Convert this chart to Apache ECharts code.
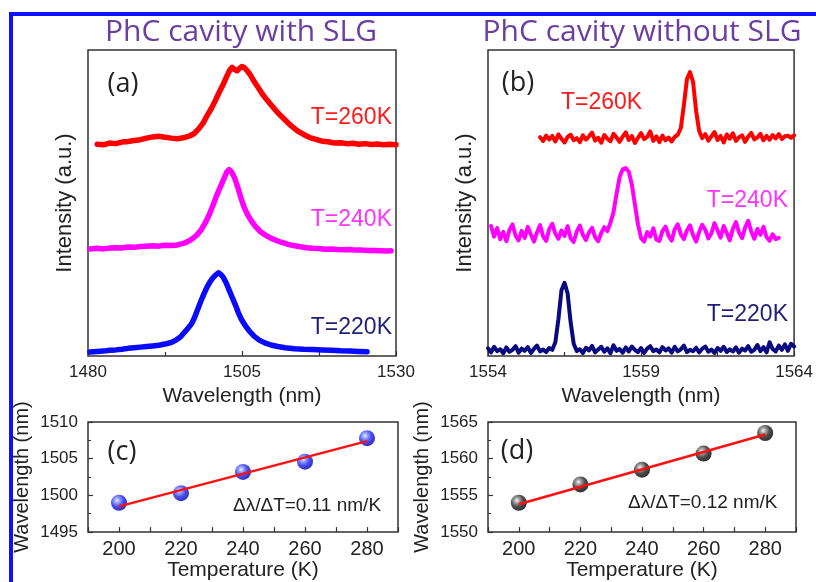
<!DOCTYPE html>
<html><head><meta charset="utf-8">
<script src="https://cdn.jsdelivr.net/npm/echarts@6/dist/echarts.min.js"></script>
<style>html,body{margin:0;padding:0;background:#fff}#c{width:816px;height:582px}</style>
</head><body><div id="c"></div>
<script>
// ---------- DATA ----------
// Panel (a): PhC cavity with SLG, [wavelength nm, intensity a.u.]
const specA260 = [[1481.5,69.2],[1482.5,69.0],[1483.5,69.6],[1484.5,69.4],[1485.5,69.9],[1486.5,70.1],[1487.5,70.4],[1488.5,70.7],[1489.5,71.2],[1490.5,71.6],[1491.5,71.8],[1492.5,71.5],[1493.5,71.2],[1494.5,71.0],[1495.5,71.3],[1496.5,71.9],[1497.3,72.8],[1498,74.3],[1498.7,76.2],[1499.4,78.8],[1500,80.8],[1500.7,83.6],[1501.3,86.2],[1502,89.0],[1502.5,91.3],[1503,93.4],[1503.4,94.3],[1503.8,93.6],[1504.2,93.2],[1504.6,94.0],[1505,94.6],[1505.4,94.2],[1505.9,93.1],[1506.4,91.7],[1507,89.6],[1507.6,87.8],[1508.3,85.6],[1509,83.8],[1509.7,82.1],[1510.5,80.2],[1511.3,78.5],[1512,77.1],[1513,75.2],[1514,73.6],[1515,72.4],[1516,71.4],[1517,70.8],[1518,70.2],[1519,70.0],[1520,69.6],[1521,69.7],[1522,69.4],[1523,69.5],[1524,69.2],[1525,69.4],[1526,69.1],[1527,69.3],[1528,69.0],[1529,69.2],[1530,69.0]];
const specA240 = [[1480.3,35.0],[1481.5,35.2],[1482.5,35.0],[1483.5,35.3],[1484.5,35.4],[1485.5,35.3],[1486.5,35.6],[1487.5,35.5],[1488.5,35.8],[1489.5,35.9],[1490.5,36.0],[1491.5,35.9],[1492.5,36.2],[1493.5,36.1],[1494.5,36.3],[1495.5,36.8],[1496.3,37.5],[1497,38.4],[1497.7,39.6],[1498.4,41.3],[1499,43.4],[1499.6,45.8],[1500.2,48.8],[1500.8,52.0],[1501.4,54.9],[1502,57.6],[1502.5,60.0],[1502.9,60.9],[1503.3,60.2],[1503.8,58.2],[1504.3,55.2],[1504.8,51.8],[1505.3,48.8],[1505.9,46.2],[1506.5,44.2],[1507.2,42.3],[1508,40.6],[1508.8,39.5],[1509.6,38.6],[1510.5,37.8],[1511.5,37.1],[1512.5,36.5],[1513.5,36.0],[1514.5,35.7],[1515.5,35.4],[1516.5,35.2],[1517.5,35.1],[1518.5,34.9],[1519.5,35.0],[1520.5,34.8],[1521.5,34.7],[1522.5,34.8],[1523.5,34.6],[1524.5,34.6],[1525.5,34.5],[1526.5,34.5],[1527.5,34.4],[1528.5,34.3],[1529.2,34.4]];
const specA220 = [[1480.3,1.3],[1481.5,1.5],[1482.5,1.6],[1483.5,1.9],[1484.5,2.0],[1485.5,2.2],[1486.5,2.5],[1487.5,2.7],[1488.5,2.9],[1489.5,3.1],[1490.5,3.3],[1491.5,3.5],[1492.5,3.9],[1493.5,4.4],[1494.3,5.2],[1495,6.2],[1495.6,7.6],[1496.2,9.0],[1496.8,10.5],[1497.3,12.6],[1497.8,15.2],[1498.3,17.8],[1498.8,20.2],[1499.3,22.4],[1499.8,24.2],[1500.3,25.6],[1500.8,26.6],[1501.2,27.2],[1501.6,26.6],[1502,25.6],[1502.4,24.0],[1502.9,21.6],[1503.4,19.2],[1503.9,16.8],[1504.4,14.2],[1504.9,12.0],[1505.5,10.0],[1506.2,8.1],[1507,6.4],[1507.8,5.2],[1508.7,4.3],[1509.7,3.6],[1510.8,3.1],[1512,2.7],[1513.5,2.4],[1515,2.2],[1516.5,2.1],[1518,2.0],[1519.5,1.9],[1521,1.7],[1522.5,1.6],[1524,1.5],[1525.3,1.4]];

// Panel (b): PhC cavity without SLG
const specB260 = [[1555.7,71.5],[1555.8,70.3],[1555.9,72.0],[1556.0,70.8],[1556.1,71.9],[1556.2,70.1],[1556.3,72.4],[1556.4,71.0],[1556.5,69.8],[1556.6,71.6],[1556.7,72.3],[1556.8,70.5],[1556.9,71.2],[1557.0,69.9],[1557.1,72.1],[1557.2,70.7],[1557.3,71.8],[1557.4,73.0],[1557.5,70.4],[1557.6,71.3],[1557.7,69.7],[1557.8,72.2],[1557.9,71.0],[1558.0,70.2],[1558.1,72.6],[1558.2,71.4],[1558.3,70.0],[1558.4,71.7],[1558.5,73.1],[1558.6,70.6],[1558.7,71.9],[1558.8,69.6],[1558.9,71.3],[1559.0,72.8],[1559.1,70.9],[1559.2,71.6],[1559.3,73.4],[1559.4,70.3],[1559.5,71.8],[1559.6,69.9],[1559.7,72.0],[1559.8,70.5],[1559.9,71.4],[1560.0,70.1],[1560.1,71.6],[1560.2,72.3],[1560.3,74.5],[1560.4,82.0],[1560.5,90.5],[1560.6,92.8],[1560.7,89.5],[1560.8,80.0],[1560.9,73.5],[1561.0,71.2],[1561.1,72.5],[1561.2,70.4],[1561.3,71.8],[1561.4,73.2],[1561.5,70.6],[1561.6,71.9],[1561.7,69.8],[1561.8,72.4],[1561.9,71.0],[1562.0,72.8],[1562.1,70.3],[1562.2,71.5],[1562.3,72.1],[1562.4,70.0],[1562.5,71.7],[1562.6,72.9],[1562.7,70.8],[1562.8,71.4],[1562.9,72.6],[1563.0,70.5],[1563.1,71.9],[1563.2,70.7],[1563.3,72.2],[1563.4,71.1],[1563.5,72.5],[1563.6,70.9],[1563.7,71.8],[1563.8,72.0],[1563.9,71.3],[1564.0,72.1]];
const specB240 = [[1554.1,42.5],[1554.2,39.0],[1554.3,41.8],[1554.4,38.2],[1554.5,40.6],[1554.6,37.5],[1554.7,41.2],[1554.8,43.0],[1554.9,39.4],[1555.0,37.8],[1555.1,40.9],[1555.2,38.6],[1555.3,42.2],[1555.4,39.7],[1555.5,37.4],[1555.6,40.3],[1555.7,42.8],[1555.8,39.1],[1555.9,37.6],[1556.0,41.5],[1556.1,43.2],[1556.2,40.0],[1556.3,38.3],[1556.4,41.0],[1556.5,39.2],[1556.6,42.4],[1556.7,38.5],[1556.8,37.3],[1556.9,40.7],[1557.0,42.6],[1557.1,39.6],[1557.2,37.9],[1557.3,40.4],[1557.4,41.9],[1557.5,38.8],[1557.6,37.5],[1557.7,40.2],[1557.8,42.1],[1557.9,40.8],[1558.0,43.6],[1558.1,47.0],[1558.2,53.0],[1558.3,58.5],[1558.4,61.0],[1558.5,61.4],[1558.6,60.2],[1558.7,56.0],[1558.8,49.5],[1558.9,43.0],[1559.0,38.6],[1559.1,37.4],[1559.2,40.5],[1559.3,39.0],[1559.4,41.7],[1559.5,38.1],[1559.6,37.6],[1559.7,40.9],[1559.8,42.3],[1559.9,39.3],[1560.0,37.7],[1560.1,41.4],[1560.2,43.0],[1560.3,39.8],[1560.4,38.2],[1560.5,41.1],[1560.6,42.7],[1560.7,39.5],[1560.8,37.4],[1560.9,40.6],[1561.0,42.9],[1561.1,41.2],[1561.2,38.4],[1561.3,40.1],[1561.4,43.4],[1561.5,41.0],[1561.6,38.7],[1561.7,42.5],[1561.8,40.2],[1561.9,37.8],[1562.0,41.6],[1562.1,43.8],[1562.2,40.4],[1562.3,38.5],[1562.4,42.0],[1562.5,44.2],[1562.6,40.7],[1562.7,38.3],[1562.8,41.5],[1562.9,39.6],[1563.0,42.2],[1563.1,38.9],[1563.2,37.7],[1563.3,39.8],[1563.4,38.2],[1563.5,38.6]];
const specB220 = [[1554.0,2.5],[1554.1,1.2],[1554.2,3.0],[1554.3,1.6],[1554.4,2.2],[1554.5,0.9],[1554.6,2.8],[1554.7,1.4],[1554.8,2.0],[1554.9,3.2],[1555.0,1.1],[1555.1,2.4],[1555.2,1.7],[1555.3,2.9],[1555.4,1.0],[1555.5,2.3],[1555.6,3.4],[1555.7,1.5],[1555.8,2.1],[1555.9,1.3],[1556.0,2.6],[1556.1,2.0],[1556.2,4.5],[1556.3,12.0],[1556.4,21.5],[1556.5,23.9],[1556.6,20.5],[1556.7,11.0],[1556.8,4.0],[1556.9,1.6],[1557.0,2.2],[1557.1,1.0],[1557.2,2.7],[1557.3,1.8],[1557.4,3.3],[1557.5,1.2],[1557.6,2.1],[1557.7,3.0],[1557.8,1.4],[1557.9,2.5],[1558.0,0.9],[1558.1,3.5],[1558.2,1.7],[1558.3,2.3],[1558.4,1.1],[1558.5,2.8],[1558.6,1.5],[1558.7,3.1],[1558.8,2.0],[1558.9,1.3],[1559.0,2.6],[1559.1,1.0],[1559.2,2.4],[1559.3,3.2],[1559.4,1.6],[1559.5,2.1],[1559.6,1.2],[1559.7,2.9],[1559.8,1.8],[1559.9,2.5],[1560.0,1.1],[1560.1,3.0],[1560.2,1.5],[1560.3,2.2],[1560.4,3.4],[1560.5,1.3],[1560.6,2.0],[1560.7,1.6],[1560.8,2.7],[1560.9,1.2],[1561.0,2.4],[1561.1,3.1],[1561.2,1.4],[1561.3,2.1],[1561.4,1.0],[1561.5,2.6],[1561.6,1.7],[1561.7,3.0],[1561.8,1.3],[1561.9,2.2],[1562.0,1.5],[1562.1,2.8],[1562.2,1.1],[1562.3,2.4],[1562.4,1.8],[1562.5,3.2],[1562.6,1.4],[1562.7,2.0],[1562.8,3.6],[1562.9,1.6],[1563.0,2.9],[1563.1,1.2],[1563.2,4.5],[1563.3,2.3],[1563.4,1.5],[1563.5,3.4],[1563.6,2.0],[1563.7,3.8],[1563.8,1.7],[1563.9,4.0],[1564.0,3.1]];

// Panels (c),(d): resonance wavelength vs temperature
const temps = [200, 220, 240, 260, 280];
const wlC = [1499.0, 1500.3, 1503.2, 1504.6, 1507.8];
const wlD = [1554.0, 1556.5, 1558.5, 1560.7, 1563.5];
const fitT = [200, 280];
const fitC = [1498.5, 1507.4];
const fitD = [1553.8, 1563.3];

// tick labels
const ticksA = [1480, 1505, 1530];
const ticksB = [1554, 1559, 1564];
const ticksT = [200, 220, 240, 260, 280];

// ---------- CHART ----------
const chart = echarts.init(document.getElementById('c'), null, {renderer: 'canvas'});
const FONT = 'Arial, Liberation Sans, Helvetica, sans-serif';
const pair = (xs, ys) => xs.map((x, i) => [x, ys[i]]);

const gridBase = {show: true, borderColor: '#333', borderWidth: 1.5, backgroundColor: 'transparent', containLabel: false};
const tickStyle = {show: true, inside: true, length: 5, lineStyle: {color: '#333', width: 1.2}};

function specX(idx, min, max, interval, labels) {
  return {
    type: 'value', gridIndex: idx, min: min, max: max, interval: interval,
    axisLine: {show: false}, splitLine: {show: false},
    axisTick: tickStyle,
    minorTick: {show: true, splitNumber: 2, length: 4, lineStyle: {color: '#333', width: 1.2}},
    axisLabel: {show: true, margin: 8, fontSize: 17, color: '#222', fontFamily: FONT,
      formatter: v => labels.indexOf(v) >= 0 ? String(v) : ''},
    name: 'Wavelength (nm)', nameLocation: 'middle', nameGap: 24,
    nameTextStyle: {fontSize: 21, color: '#222', fontFamily: FONT}
  };
}
function specY(idx) {
  return {
    type: 'value', gridIndex: idx, min: 0, max: 100,
    axisLine: {show: false}, splitLine: {show: false}, axisTick: {show: false}, axisLabel: {show: false},
    name: 'Intensity (a.u.)', nameLocation: 'middle', nameGap: 12, nameRotate: 90,
    nameTextStyle: {fontSize: 22, color: '#222', fontFamily: FONT}
  };
}
function tempX(idx) {
  return {
    type: 'value', gridIndex: idx, min: 190, max: 290, interval: 10,
    axisLine: {show: false}, splitLine: {show: false},
    axisTick: tickStyle,
    axisLabel: {show: true, margin: 7, fontSize: 20, color: '#222', fontFamily: FONT,
      formatter: v => ticksT.indexOf(v) >= 0 ? String(v) : ''},
    name: 'Temperature (K)', nameLocation: 'middle', nameGap: 25,
    nameTextStyle: {fontSize: 21, color: '#222', fontFamily: FONT}
  };
}
function wlY(idx, min, max) {
  return {
    type: 'value', gridIndex: idx, min: min, max: max, interval: 5,
    axisLine: {show: false}, splitLine: {show: false},
    axisTick: tickStyle,
    minorTick: {show: true, splitNumber: 2, length: 3, lineStyle: {color: '#333', width: 1}},
    axisLabel: {show: true, margin: 10, fontSize: 17, color: '#222', fontFamily: FONT,
      formatter: v => String(v)},
    name: 'Wavelength (nm)', nameLocation: 'middle', nameGap: 56, nameRotate: 90,
    nameTextStyle: {fontSize: 20, color: '#222', fontFamily: FONT}
  };
}
function specLine(xi, data, color, width) {
  return {type: 'line', xAxisIndex: xi, yAxisIndex: xi, data: data, showSymbol: false, symbol: 'none',
    lineStyle: {color: color, width: width, join: 'round', cap: 'round'}, z: 3, clip: true};
}
const blueBall = {type: 'radial', x: 0.38, y: 0.35, r: 0.65, colorStops: [
  {offset: 0, color: '#e4ecff'}, {offset: 0.25, color: '#7c8cff'}, {offset: 0.6, color: '#1a22f0'}, {offset: 1, color: '#0000a8'}]};
const blackBall = {type: 'radial', x: 0.38, y: 0.35, r: 0.65, colorStops: [
  {offset: 0, color: '#f6f6f6'}, {offset: 0.25, color: '#8c8c8c'}, {offset: 0.6, color: '#222'}, {offset: 1, color: '#000'}]};

function txt(x, y, s, size, color, align, family) {
  return {type: 'text', x: x, y: y, z: 50, style: {text: s, fill: color,
    font: size + 'px ' + (family || FONT), textAlign: align || 'left', align: align || 'left',
    textVerticalAlign: 'middle', verticalAlign: 'middle'}};
}
const TITLE = 'Open Sans, Noto Sans, sans-serif';

const option = {
  animation: false,
  backgroundColor: '#fff',
  grid: [
    Object.assign({left: 88, top: 50, width: 308, height: 306}, gridBase),
    Object.assign({left: 488, top: 50, width: 308, height: 306}, gridBase),
    Object.assign({left: 88, top: 422, width: 310, height: 111}, gridBase),
    Object.assign({left: 488, top: 422, width: 308, height: 111}, gridBase)
  ],
  xAxis: [specX(0, 1480, 1530, 25, ticksA), specX(1, 1554, 1564, 5, ticksB), tempX(2), tempX(3)],
  yAxis: [specY(0), specY(1), wlY(2, 1495, 1510), wlY(3, 1550, 1565)],
  series: [
    specLine(0, specA260, '#ff0000', 5.5),
    specLine(0, specA240, '#ff00ff', 5.5),
    specLine(0, specA220, '#0a0aff', 5.5),
    specLine(1, specB260, '#ff0000', 4),
    specLine(1, specB240, '#ff00ff', 4),
    specLine(1, specB220, '#0a0a80', 4),
    {type: 'scatter', xAxisIndex: 2, yAxisIndex: 2, data: pair(temps, wlC), symbolSize: 16,
      itemStyle: {color: blueBall}, z: 3},
    {type: 'line', xAxisIndex: 2, yAxisIndex: 2, data: pair(fitT, fitC), showSymbol: false, symbol: 'none',
      lineStyle: {color: '#ff1010', width: 2.5}, z: 5},
    {type: 'scatter', xAxisIndex: 3, yAxisIndex: 3, data: pair(temps, wlD), symbolSize: 16,
      itemStyle: {color: blackBall}, z: 3},
    {type: 'line', xAxisIndex: 3, yAxisIndex: 3, data: pair(fitT, fitD), showSymbol: false, symbol: 'none',
      lineStyle: {color: '#ff1010', width: 2.5}, z: 5}
  ],
  graphic: [
    {type: 'rect', shape: {x: 9, y: 12, width: 4, height: 570}, style: {fill: '#1010ff'}, z: 60},
    {type: 'rect', shape: {x: 9, y: 12, width: 807, height: 4}, style: {fill: '#1010ff'}, z: 60},
    txt(241, 32, 'PhC cavity with SLG', 30, '#6B3FA0', 'center', TITLE),
    txt(642, 32, 'PhC cavity without SLG', 30, '#6B3FA0', 'center', TITLE),
    txt(123, 84, '(a)', 27, '#222', 'center', TITLE),
    txt(518, 83, '(b)', 27, '#222', 'center', TITLE),
    txt(122, 452, '(c)', 27, '#222', 'center', TITLE),
    txt(517, 451, '(d)', 27, '#222', 'center', TITLE),
    txt(392, 118, 'T=260K', 23, '#ff1a1a', 'right'),
    txt(392, 220, 'T=240K', 23, '#ff33ff', 'right'),
    txt(392, 328, 'T=220K', 23, '#1f1f7a', 'right'),
    txt(561, 103, 'T=260K', 23, '#ff1a1a', 'left'),
    txt(788, 201, 'T=240K', 23, '#ff33ff', 'right'),
    txt(788, 315, 'T=220K', 23, '#1f1f7a', 'right'),
    txt(233, 506, 'Δλ/ΔT=0.11 nm/K', 19, '#222', 'left'),
    txt(628, 503, 'Δλ/ΔT=0.12 nm/K', 19, '#222', 'left')
  ]
};
chart.setOption(option);
</script></body></html>
